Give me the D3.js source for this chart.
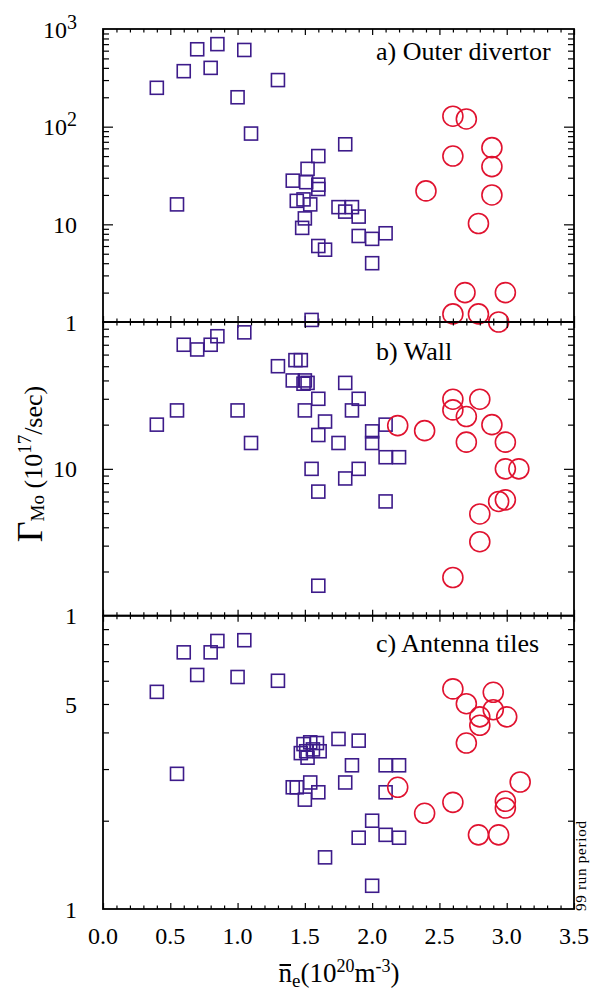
<!DOCTYPE html>
<html><head><meta charset="utf-8">
<script src="https://cdn.jsdelivr.net/npm/d3@7"></script>
<style>
body{margin:0;background:#fff}
svg{display:block}
text{font-family:"Liberation Serif","Times New Roman",serif;fill:#000}
</style>
</head><body>
<svg id="chart" width="593" height="990"></svg>
<script>
// ---------- DATA ----------
const outerSquares = [[0.40,250],[0.60,370],[0.70,620],[0.85,700],[0.80,400],[1.05,610],[1.00,200],[1.10,85],[1.30,300],[0.55,16],
 [1.60,50],[1.80,66],[1.52,37],[1.41,28],[1.51,27],[1.60,25.5],[1.60,23],[1.44,17.4],[1.49,18],[1.54,16],[1.75,15],[1.85,15],
 [1.80,13.5],[1.90,12],[1.50,11.5],[1.48,9.2],[1.90,7.6],[2.00,7.1],[2.10,8.1],[1.60,6.0],[1.65,5.5],[2.00,4.0],[1.55,1.05]];
const outerCircles = [[2.60,128],[2.70,120],[2.60,50],[2.89,61],[2.89,39],[2.40,22],[2.89,20],[2.79,10.2],[2.69,2.0],[2.99,2.0],
 [2.60,1.21],[2.79,1.21],[2.94,1.0]];
const wallSquares = [[0.60,70],[0.70,65],[0.80,70],[0.85,80],[1.05,85],[1.30,50],[1.43,55],[1.47,55],[1.41,40],[1.50,40],[1.52,38.5],
 [1.49,38],[0.40,20],[0.55,25],[1.00,25],[1.10,15],[1.60,30],[1.80,38.5],[1.90,30],[1.50,25],[1.85,25],[1.65,21],[1.60,17],[1.75,15],
 [2.00,18],[2.10,20],[2.00,15],[2.10,12],[2.20,12],[1.55,10],[1.90,10],[1.80,8.6],[1.60,7.0],[2.10,6.0],[1.60,1.6]];
const wallCircles = [[2.19,19.7],[2.39,18.2],[2.60,29.8],[2.80,29.8],[2.60,25.2],[2.70,22.7],[2.89,20],[2.70,15.2],[2.99,15.2],
 [2.99,10],[3.09,10],[2.94,6.0],[2.99,6.15],[2.80,4.93],[2.80,3.19],[2.60,1.82]];
const antennaSquares = [[0.40,5.5],[0.60,7.5],[0.70,6.28],[0.80,7.5],[0.85,8.2],[1.05,8.25],[1.00,6.18],[1.30,6.0],[0.55,2.89],
 [1.49,3.65],[1.54,3.70],[1.59,3.68],[1.47,3.40],[1.51,3.45],[1.56,3.50],[1.61,3.45],[1.52,3.28],
 [1.41,2.6],[1.44,2.6],[1.54,2.70],[1.60,2.50],[1.50,2.36],[1.75,3.80],[1.90,3.75],[1.85,3.09],[1.80,2.70],[2.10,3.09],[2.20,3.09],
 [2.10,2.50],[2.00,2.0],[1.90,1.75],[2.10,1.79],[2.20,1.75],[1.65,1.50],[2.00,1.2]];
const antennaCircles = [[2.60,5.63],[2.90,5.48],[2.70,5.01],[2.90,4.78],[2.80,4.52],[3.00,4.52],[2.80,4.23],[2.70,3.68],[3.10,2.71],
 [2.19,2.60],[2.60,2.31],[2.99,2.33],[2.99,2.21],[2.39,2.12],[2.79,1.79],[2.94,1.79]];

const xTickValues = [0,0.5,1.0,1.5,2.0,2.5,3.0,3.5];
const xTickLabels = ["0.0","0.5","1.0","1.5","2.0","2.5","3.0","3.5"];
const outerTickValues = [1000,100,10,1];
const outerTickLabels = [["10","3"],["10","2"],["10",""],["1",""]];
const wallTickValues = [10,1];
const wallTickLabels = [["10",""],["1",""]];
const antennaTickValues = [5,1];
const antennaTickLabels = [["5",""],["1",""]];
const panelTitles = ["a) Outer divertor","b) Wall","c) Antenna tiles"];
const panelDomains = [[1,1000],[1,100],[1,10]];

// ---------- LAYOUT ----------
const L = 103, R = 574;
const tops = [29, 322, 615.7], bottoms = [322, 615.7, 909];
const titleBase = [60, 360, 652];
const purple = "#3d1b8a", red = "#e0122f";

const svg = d3.select("#chart");
const x = d3.scaleLinear().domain([0,3.5]).range([L,R]);
const xMinor = d3.range(0, 3.5001, 0.1).map(v => +v.toFixed(2)).filter(v => Math.abs(v*2 - Math.round(v*2)) > 1e-6);

const panels = [
  {sq: outerSquares, ci: outerCircles, tv: outerTickValues, tl: outerTickLabels},
  {sq: wallSquares, ci: wallCircles, tv: wallTickValues, tl: wallTickLabels},
  {sq: antennaSquares, ci: antennaCircles, tv: antennaTickValues, tl: antennaTickLabels}
];

function styleAxis(g){
  g.select(".domain").remove();
  g.selectAll("line").attr("stroke","#000").attr("stroke-width",1.2);
  g.selectAll("text").remove();
}

panels.forEach((p, i) => {
  const dom = panelDomains[i];
  const y = d3.scaleLog().domain(dom).range([bottoms[i], tops[i]]);
  const g = svg.append("g");
  const e0 = Math.round(Math.log10(dom[0])), e1 = Math.round(Math.log10(dom[1]));
  const minor = [], major = [];
  for (let e = e0; e < e1; e++) {
    for (let k = 2; k <= 9; k++) minor.push(k * Math.pow(10, e));
    if (e > e0) major.push(Math.pow(10, e));
  }
  g.append("g").attr("transform",`translate(${L},0)`).call(d3.axisLeft(y).tickValues(minor).tickSize(-6).tickFormat("")).call(styleAxis);
  g.append("g").attr("transform",`translate(${L},0)`).call(d3.axisLeft(y).tickValues(major).tickSize(-10).tickFormat("")).call(styleAxis);
  g.append("g").attr("transform",`translate(${R},0)`).call(d3.axisRight(y).tickValues(minor).tickSize(-6).tickFormat("")).call(styleAxis);
  g.append("g").attr("transform",`translate(${R},0)`).call(d3.axisRight(y).tickValues(major).tickSize(-10).tickFormat("")).call(styleAxis);
  g.append("g").attr("transform",`translate(0,${tops[i]})`).call(d3.axisTop(x).tickValues(xMinor).tickSize(-3.5).tickFormat("")).call(styleAxis);
  g.append("g").attr("transform",`translate(0,${tops[i]})`).call(d3.axisTop(x).tickValues(xTickValues).tickSize(-6).tickFormat("")).call(styleAxis);
  g.append("g").attr("transform",`translate(0,${bottoms[i]})`).call(d3.axisBottom(x).tickValues(xMinor).tickSize(-3.5).tickFormat("")).call(styleAxis);
  g.append("g").attr("transform",`translate(0,${bottoms[i]})`).call(d3.axisBottom(x).tickValues(xTickValues).tickSize(-6).tickFormat("")).call(styleAxis);
  g.append("rect").attr("x",L).attr("y",tops[i]).attr("width",R-L).attr("height",bottoms[i]-tops[i])
    .attr("fill","none").attr("stroke","#000").attr("stroke-width",1.8);
  p.tv.forEach((v, j) => {
    const t = g.append("text").attr("x",77).attr("y",y(v)).attr("dy","0.36em").attr("text-anchor","end").attr("font-size",24);
    t.append("tspan").text(p.tl[j][0]);
    if (p.tl[j][1]) t.append("tspan").attr("dy",-9).attr("font-size",20).text(p.tl[j][1]);
  });
  g.append("text").attr("x",376).attr("y",titleBase[i]).attr("font-size",26).text(panelTitles[i]);
  g.append("g").selectAll("rect").data(p.sq).join("rect")
    .attr("x", d => x(d[0]) - 6.5).attr("y", d => y(d[1]) - 6.5).attr("width",13).attr("height",13)
    .attr("fill","none").attr("stroke",purple).attr("stroke-width",1.6);
  g.append("g").selectAll("circle").data(p.ci).join("circle")
    .attr("cx", d => x(d[0])).attr("cy", d => y(d[1])).attr("r",10)
    .attr("fill","none").attr("stroke",red).attr("stroke-width",1.6);
});

svg.append("g").selectAll("text").data(xTickValues).join("text")
  .attr("x", d => x(d)).attr("y", 944).attr("text-anchor","middle").attr("font-size",24)
  .text((d, i) => xTickLabels[i]);

const xl = svg.append("text").attr("x",339).attr("y",982).attr("text-anchor","middle").attr("font-size",27);
xl.append("tspan").text("n");
xl.append("tspan").attr("dy",5).attr("font-size",19).text("e");
xl.append("tspan").attr("dy",-5).text("(10");
xl.append("tspan").attr("dy",-10).attr("font-size",18).text("20");
xl.append("tspan").attr("dy",10).text("m");
xl.append("tspan").attr("dy",-10).attr("font-size",18).text("-3");
xl.append("tspan").attr("dy",10).text(")");
const ext = xl.node().getExtentOfChar(0);
svg.append("line").attr("x1",ext.x+1).attr("x2",ext.x+ext.width-1).attr("y1",965).attr("y2",965)
  .attr("stroke","#000").attr("stroke-width",2);

const yl = svg.append("text").attr("transform","translate(42,464) rotate(-90)").attr("text-anchor","middle").attr("font-size",26);
yl.append("tspan").attr("font-size",36).text("Γ");
yl.append("tspan").attr("dy",2).attr("font-size",19).text("Mo");
yl.append("tspan").attr("dy",-2).text(" (10");
yl.append("tspan").attr("dy",-11).attr("font-size",19).text("17");
yl.append("tspan").attr("dy",11).text("/sec)");

svg.append("text").attr("transform","translate(586,911) rotate(-90)").attr("font-size",15)
  .attr("textLength",90).attr("lengthAdjust","spacing").text("99 run period");
</script>
</body></html>
